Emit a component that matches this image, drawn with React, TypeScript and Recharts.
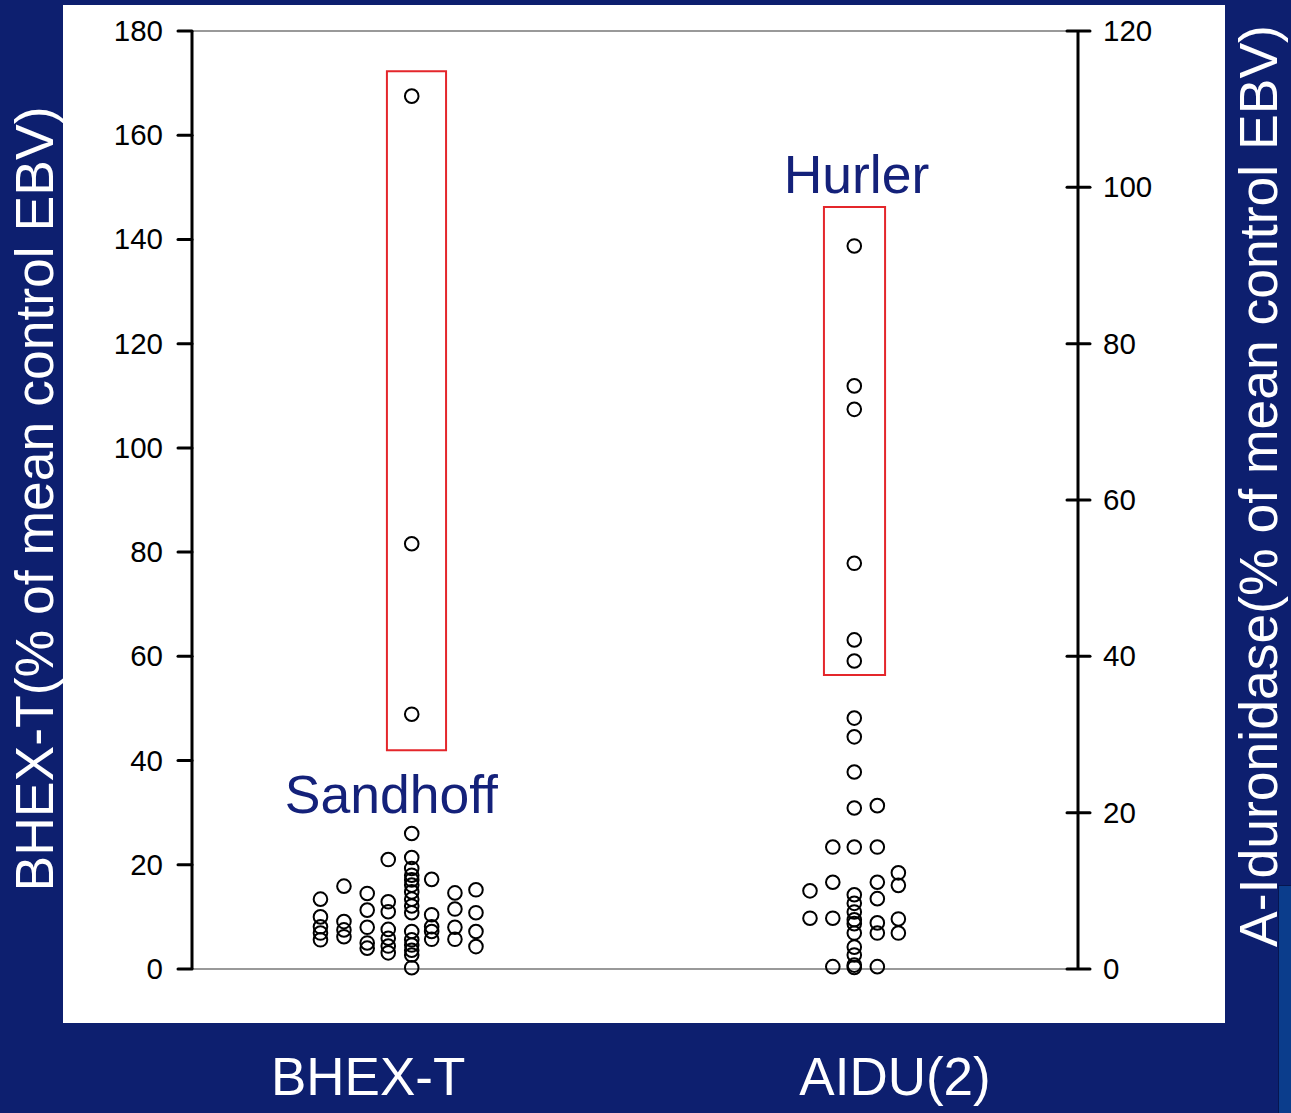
import React from 'react';
import { ScatterChart, Scatter, XAxis, YAxis, ReferenceArea, ReferenceLine } from 'recharts';

// ---- data ----
const leftTicks = [0, 20, 40, 60, 80, 100, 120, 140, 160, 180];
const rightTicks = [0, 20, 40, 60, 80, 100, 120];
const categories = ['BHEX-T', 'AIDU(2)'];
const categoryX = [0.795, 3.174];

// BHEX-T (left axis), beeswarm columns
const bhexColumnX = [0.58, 0.686, 0.791, 0.886, 0.992, 1.082, 1.187, 1.282];
const bhexColumnValues = [
  [13.4, 10.0, 8.1, 6.9, 5.6],
  [15.9, 9.1, 7.5, 6.2],
  [14.5, 11.3, 8.0, 5.0, 4.0],
  [21.0, 12.9, 11.0, 7.6, 5.9, 4.4, 3.1],
  [167.5, 81.6, 48.9, 26.0, 21.4, 19.3, 18.0, 17.1, 16.1, 14.8, 13.4, 12.1, 10.8, 7.2, 5.6, 4.6, 3.6, 2.7, 0.25],
  [17.2, 10.4, 8.1, 7.2, 5.7],
  [14.6, 11.5, 8.0, 5.7],
  [15.2, 10.8, 7.2, 4.3],
];

// AIDU(2) (right axis), beeswarm columns
const aiduColumnX = [2.79, 2.893, 2.99, 3.094, 3.189];
const aiduColumnValues = [
  [10.0, 6.5],
  [15.6, 11.1, 6.5, 0.3],
  [92.5, 74.6, 71.6, 51.9, 42.1, 39.4, 32.1, 29.7, 25.2, 20.6, 15.6, 9.5, 8.4, 7.3, 6.3, 5.8, 4.6, 2.8, 1.8, 0.5, 0.2],
  [20.9, 15.6, 11.1, 9.0, 5.9, 4.6, 0.3],
  [12.3, 10.7, 6.4, 4.6],
];

// annotations (left axis units)
const annotationNames = ['Sandhoff', 'Hurler'];
const annotationX = [0.9, 3.0];
const annotationY = [29.9, 148.9];

// highlighted boxes
const sandhoffBox = { x1: 0.88, x2: 1.147, y1: 42.0, y2: 172.3 };
const hurlerBox = { x1: 2.853, x2: 3.129, y1: 37.6, y2: 97.5 };

const leftTitle = 'BHEX-T(% of mean control EBV)';
const rightTitle = 'A-Iduronidase(% of mean control EBV)';

// ---- build ----
const toPoints = (xs: number[], vals: number[][]) =>
  vals.flatMap((col, i) => col.map((v) => ({ x: xs[i], y: v })));
const bhexData = toPoints(bhexColumnX, bhexColumnValues);
const aiduData = toPoints(aiduColumnX, aiduColumnValues);
const annotationData = annotationNames.map((n, i) => ({ name: n, x: annotationX[i], y: annotationY[i] }));

const FONT = '"Liberation Sans", Arial, Helvetica, sans-serif';
const NAVY = '#0d1f6f';
const LABEL_NAVY = '#14217a';

const W = 1291;
const H = 1113;

const OpenCircle = (props: any) => {
  const { cx, cy } = props;
  if (cx == null || cy == null) return null;
  return <circle cx={cx} cy={cy} r={6.8} fill="none" stroke="#000" strokeWidth={2} />;
};

const AnnotationText = (props: any) => {
  const { cx, cy, payload } = props;
  if (cx == null || cy == null) return null;
  return (
    <text x={cx} y={cy} textAnchor="middle" fill={LABEL_NAVY} fontSize={53.5} fontFamily={FONT}>
      {payload.name}
    </text>
  );
};

const LeftTick = (props: any) => {
  const { x, y, payload } = props;
  return (
    <g>
      <line x1={x - 14} x2={x} y1={y} y2={y} stroke="#000" strokeWidth={3} strokeLinecap="round" />
      <text x={x - 29} y={y} dy={10} textAnchor="end" fontSize={29.5} fontFamily={FONT} fill="#000">
        {payload.value}
      </text>
    </g>
  );
};

const RightTick = (props: any) => {
  const { x, y, payload } = props;
  return (
    <g>
      <line x1={x - 11} x2={x + 12} y1={y} y2={y} stroke="#000" strokeWidth={3} strokeLinecap="round" />
      <text x={x + 25} y={y} dy={10} textAnchor="start" fontSize={29.5} fontFamily={FONT} fill="#000">
        {payload.value}
      </text>
    </g>
  );
};

const CategoryTick = (props: any) => {
  const { x, y, payload } = props;
  const idx = categoryX.indexOf(payload.value);
  return (
    <text x={x} y={y} dy={126} textAnchor="middle" fontSize={53} fontFamily={FONT} fill="#fff">
      {idx >= 0 ? categories[idx] : ''}
    </text>
  );
};

const LeftTitle = (props: any) => {
  const vb = props.viewBox;
  const x = vb.x + 1;
  const y = vb.y + vb.height / 2 - 1;
  return (
    <text x={x} y={y} transform={`rotate(-90, ${x}, ${y})`} textAnchor="middle" fontSize={53.5} fontFamily={FONT} fill="#fff">
      {leftTitle}
    </text>
  );
};

const RightTitle = (props: any) => {
  const vb = props.viewBox;
  const x = vb.x + vb.width - 1;
  const y = vb.y + vb.height / 2 - 14;
  return (
    <text x={x} y={y} transform={`rotate(-90, ${x}, ${y})`} textAnchor="middle" fontSize={53.5} fontFamily={FONT} fill="#fff">
      {rightTitle}
    </text>
  );
};

export default function App() {
  return (
    <div style={{ position: 'absolute', left: 0, top: 0, width: W, height: H, background: NAVY, overflow: 'hidden' }}>
      <div style={{ position: 'absolute', left: 63, top: 5, width: 1162, height: 1018, background: '#fff' }} />
      <div
        style={{
          position: 'absolute',
          left: 1278,
          top: 885,
          width: 13,
          height: 228,
          background: '#0b3d8c',
          borderLeft: '1px solid #061650',
          borderTop: '1px solid #061650',
          boxSizing: 'border-box',
        }}
      />
      <div style={{ position: 'absolute', left: 0, top: 0 }}>
        <ScatterChart width={W} height={H} margin={{ top: 31, right: 13, bottom: 84, left: 52 }}>
          <XAxis
            type="number"
            dataKey="x"
            domain={[0, 4]}
            ticks={categoryX}
            interval={0}
            axisLine={false}
            tickLine={false}
            tickSize={0}
            tickMargin={0}
            height={60}
            tick={<CategoryTick />}
          />
          <YAxis
            yAxisId="left"
            type="number"
            dataKey="y"
            orientation="left"
            domain={[0, 180]}
            ticks={leftTicks}
            interval={0}
            width={140}
            axisLine={{ stroke: '#000', strokeWidth: 3 }}
            tickLine={false}
            tickSize={0}
            tickMargin={0}
            tick={<LeftTick />}
            label={LeftTitle}
          />
          <YAxis
            yAxisId="right"
            type="number"
            dataKey="y"
            orientation="right"
            domain={[0, 120]}
            ticks={rightTicks}
            interval={0}
            width={200}
            axisLine={{ stroke: '#000', strokeWidth: 3 }}
            tickLine={false}
            tickSize={0}
            tickMargin={0}
            tick={<RightTick />}
            label={RightTitle}
          />
          <ReferenceLine yAxisId="left" y={0} stroke="#999" strokeWidth={2} />
          <ReferenceLine yAxisId="left" y={180} stroke="#999" strokeWidth={2} />
          <ReferenceArea
            yAxisId="left"
            x1={sandhoffBox.x1}
            x2={sandhoffBox.x2}
            y1={sandhoffBox.y1}
            y2={sandhoffBox.y2}
            fill="none"
            fillOpacity={0}
            stroke="#e4262b"
            strokeWidth={2}
            strokeOpacity={1}
            ifOverflow="visible"
          />
          <ReferenceArea
            yAxisId="right"
            x1={hurlerBox.x1}
            x2={hurlerBox.x2}
            y1={hurlerBox.y1}
            y2={hurlerBox.y2}
            fill="none"
            fillOpacity={0}
            stroke="#e4262b"
            strokeWidth={2}
            strokeOpacity={1}
            ifOverflow="visible"
          />
          <Scatter yAxisId="left" data={bhexData} shape={<OpenCircle />} isAnimationActive={false} />
          <Scatter yAxisId="right" data={aiduData} shape={<OpenCircle />} isAnimationActive={false} />
          <Scatter yAxisId="left" data={annotationData} shape={<AnnotationText />} isAnimationActive={false} />
        </ScatterChart>
      </div>
    </div>
  );
}
